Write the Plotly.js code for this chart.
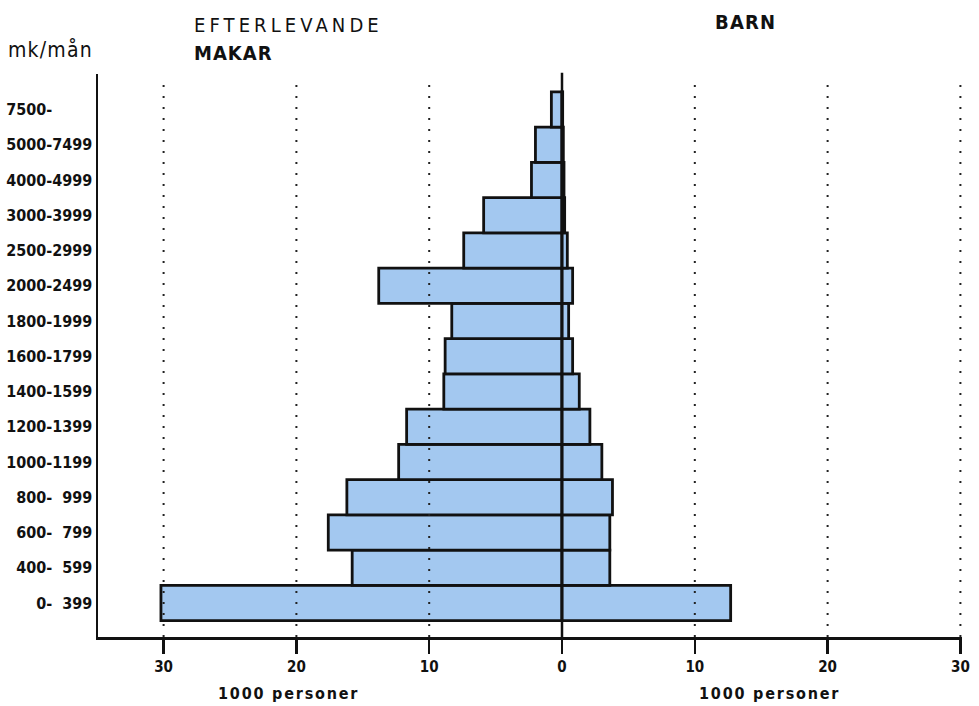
<!DOCTYPE html>
<html>
<head>
<meta charset="utf-8">
<script src="https://cdn.plot.ly/plotly-3.0.1.min.js"></script>
<style>
  html, body { margin: 0; padding: 0; background: #fff; }
  #chart { width: 979px; height: 706px; }
</style>
</head>
<body>
<div id="chart"></div>
<script>
// Income classes (mk/mån), bottom to top
const categories = ['0-\u2007399', '400-\u2007599', '600-\u2007799', '800-\u2007999',
  '1000-1199', '1200-1399', '1400-1599', '1600-1799', '1800-1999',
  '2000-2499', '2500-2999', '3000-3999', '4000-4999', '5000-7499', '7500-\u2007\u2007\u2007\u2007'];
// Efterlevande makar, 1000 personer
const makar = [30.2, 15.8, 17.6, 16.2, 12.3, 11.7, 8.9, 8.8, 8.3, 13.8, 7.4, 5.9, 2.3, 2.0, 0.8];
// Barn, 1000 personer
const barn = [12.7, 3.6, 3.6, 3.8, 3.0, 2.1, 1.3, 0.8, 0.5, 0.8, 0.4, 0.2, 0.15, 0.1, 0.05];
// x tick values / labels
const xTickVals = [-30, -20, -10, 0, 10, 20, 30];
const xTickText = ['30', '20', '10', '0', '10', '20', '30'];

const FONT = 'DejaVu Sans Condensed, DejaVu Sans, sans-serif';
const BAR = '#a3c8f0';
const idx = categories.map((c, i) => i);

const W = 979, H = 706;
const M = { l: 98, r: 17, t: 74, b: 69 };
const pw = W - M.l - M.r, ph = H - M.t - M.b;
const px = v => (v - M.l) / pw;
const py = v => (H - M.b - v) / ph;

const common = {
  type: 'bar', orientation: 'h', y: idx, width: 1,
  marker: { color: BAR, line: { color: '#111', width: 2.8 } },
  hoverinfo: 'skip', showlegend: false
};
const traces = [
  Object.assign({}, common, { x: makar.map(v => -v), base: 0, name: 'Efterlevande makar' }),
  Object.assign({}, common, { x: barn, base: 0, name: 'Barn' })
];

const shapes = xTickVals.filter(v => v !== 0).map(v => ({
  type: 'line', xref: 'x', yref: 'paper', x0: v, x1: v, y0: 0.0, y1: 0.995,
  line: { color: '#222', width: 2, dash: '2px,9px' }, layer: 'above'
}));
shapes.push({
  type: 'line', xref: 'x', yref: 'paper', x0: 0, x1: 0, y0: 0, y1: 1.002,
  line: { color: '#111', width: 2.5 }, layer: 'above'
});

function ann(text, x, y, size, bold, ls, xanchor) {
  return {
    text: '<span style="letter-spacing:' + ls + 'px">' + text + '</span>',
    xref: 'paper', yref: 'paper', x: px(x), y: py(y), xanchor: xanchor || 'left', yanchor: 'middle',
    showarrow: false,
    font: { family: FONT, size: size, color: '#111', weight: bold ? 'bold' : 'normal' }
  };
}

const annotations = [
  ann('EFTERLEVANDE', 192, 25, 20, false, 4.1),
  ann('MAKAR', 192, 53, 20, true, 1),
  ann('BARN', 713, 22, 20, true, 1.2),
  ann('mk/mån', 6, 50, 21, false, 1.2),
  ann('1000 personer', 288, 693, 16, true, 1.8, 'center'),
  ann('1000 personer', 769, 693, 16, true, 1.8, 'center')
];

const layout = {
  width: W, height: H,
  margin: M,
  paper_bgcolor: '#fff', plot_bgcolor: '#fff',
  barmode: 'overlay', bargap: 0,
  showlegend: false,
  xaxis: {
    range: [-34.94, 30.12],
    tickvals: xTickVals, ticktext: xTickText,
    showgrid: false, zeroline: false,
    showline: true, linecolor: '#111', linewidth: 2.5,
    ticks: 'outside', ticklen: 14, tickwidth: 2.5, tickcolor: '#111',
    tickfont: { family: FONT, size: 15, color: '#111', weight: 'bold' },
    fixedrange: true
  },
  yaxis: {
    range: [-0.965, 15.007],
    tickvals: idx, ticktext: categories,
    showgrid: false, zeroline: false,
    showline: true, linecolor: '#111', linewidth: 2.5,
    ticks: '', ticklabelstandoff: 0,
    tickfont: { family: FONT, size: 16, color: '#111', weight: 'bold' },
    fixedrange: true
  },
  shapes: shapes,
  annotations: annotations
};

Plotly.newPlot('chart', traces, layout, { staticPlot: true, displayModeBar: false });
</script>
</body>
</html>
